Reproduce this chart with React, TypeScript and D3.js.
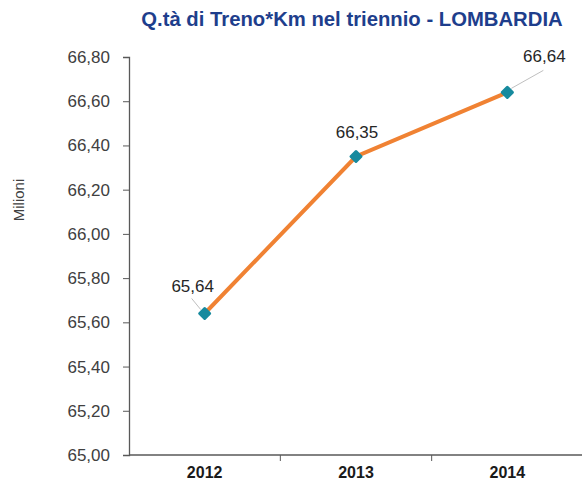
import React, { useRef, useEffect } from "react";
import * as d3 from "d3";

const years = ["2012", "2013", "2014"];
const values = [65.64, 66.35, 66.64];
const yTicks = [65.0, 65.2, 65.4, 65.6, 65.8, 66.0, 66.2, 66.4, 66.6, 66.8];
// label offsets (dx, dy) from the point, with leader line flag
const labelPos = [
  { dx: -12, dy: -21, leader: true },
  { dx: 1, dy: -19, leader: false },
  { dx: 37, dy: -30, leader: true },
];

const fmt = (v: number) => v.toFixed(2).replace(".", ",");
const FONT = "Liberation Sans, Arial, sans-serif";

const App = () => {
  const svgRef = useRef<SVGSVGElement>(null);

  useEffect(() => {
    const W = 582;
    const H = 485;
    const margin = { top: 57, right: -1, bottom: 30, left: 129 };
    const width = W - margin.left - margin.right;
    const height = H - margin.top - margin.bottom;

    const root = d3.select(svgRef.current).attr("width", W).attr("height", H);
    root.selectAll("*").remove();

    root
      .append("text")
      .attr("x", 352)
      .attr("y", 26)
      .attr("text-anchor", "middle")
      .attr("font-family", FONT)
      .attr("font-size", 20.3)
      .attr("font-weight", "bold")
      .attr("fill", "#1E3E8C")
      .text("Q.tà di Treno*Km nel triennio - LOMBARDIA");

    root
      .append("text")
      .attr("transform", "translate(24,200) rotate(-90)")
      .attr("text-anchor", "middle")
      .attr("font-family", FONT)
      .attr("font-size", 15)
      .attr("fill", "#404040")
      .text("Milioni");

    const svg = root
      .append("g")
      .attr("transform", `translate(${margin.left},${margin.top})`);

    const x = d3.scaleBand().domain(years).range([0, width]);
    const y = d3.scaleLinear().domain([65, 66.8]).range([height, 0]);

    const yAxis = svg
      .append("g")
      .call(
        d3
          .axisLeft(y)
          .tickValues(yTicks)
          .tickSize(6)
          .tickPadding(13)
          .tickFormat((d) => fmt(d as number))
      );
    yAxis.select(".domain").attr("stroke", "#595959").attr("stroke-width", 1.3);
    yAxis.selectAll(".tick line").attr("stroke", "#595959");
    yAxis
      .selectAll("text")
      .attr("font-family", FONT)
      .attr("font-size", 17)
      .attr("fill", "#404040");

    const xAxis = svg
      .append("g")
      .attr("transform", `translate(0,${height})`)
      .call(d3.axisBottom(x).tickSize(0).tickPadding(12));
    xAxis.select(".domain").remove();
    xAxis
      .selectAll("text")
      .attr("font-family", FONT)
      .attr("font-size", 16)
      .attr("font-weight", "bold")
      .attr("fill", "#1a1a1a");

    svg
      .append("line")
      .attr("x1", 0)
      .attr("x2", width + 2)
      .attr("y1", height)
      .attr("y2", height)
      .attr("stroke", "#595959")
      .attr("stroke-width", 1.3);

    svg
      .selectAll(".xtick")
      .data(years.slice(1))
      .enter()
      .append("line")
      .attr("x1", (d) => x(d)!)
      .attr("x2", (d) => x(d)!)
      .attr("y1", height)
      .attr("y2", height + 6)
      .attr("stroke", "#595959");

    const cx = (d: string) => x(d)! + x.bandwidth() / 2;

    const line = d3
      .line<number>()
      .x((d, i) => cx(years[i]))
      .y((d) => y(d));

    svg
      .append("path")
      .datum(values)
      .attr("d", line)
      .attr("fill", "none")
      .attr("stroke", "#F08233")
      .attr("stroke-width", 4);

    svg
      .selectAll(".marker")
      .data(values)
      .enter()
      .append("path")
      .attr("d", d3.symbol().type(d3.symbolSquare).size(50)())
      .attr("transform", (d, i) => `translate(${cx(years[i])},${y(d)}) rotate(45)`)
      .attr("fill", "#178A9E")
      .attr("stroke", "#178A9E")
      .attr("stroke-width", 3)
      .attr("stroke-linejoin", "round");

    values.forEach((v, i) => {
      const px = cx(years[i]);
      const py = y(v);
      const p = labelPos[i];
      if (p.leader) {
        const sx = Math.sign(p.dx);
        svg
          .append("line")
          .attr("x1", px + sx * 4)
          .attr("y1", py - 4)
          .attr("x2", i === 0 ? px - 13 : px + 36)
          .attr("y2", i === 0 ? py - 15 : py - 22)
          .attr("stroke", "#BFBFBF")
          .attr("stroke-width", 1);
      }
      svg
        .append("text")
        .attr("x", px + p.dx)
        .attr("y", py + p.dy)
        .attr("text-anchor", "middle")
        .attr("font-family", FONT)
        .attr("font-size", 17)
        .attr("fill", "#262626")
        .text(fmt(v));
    });
  }, []);

  return <svg ref={svgRef} style={{ position: "absolute", left: 0, top: 0 }}></svg>;
};

export default App;
